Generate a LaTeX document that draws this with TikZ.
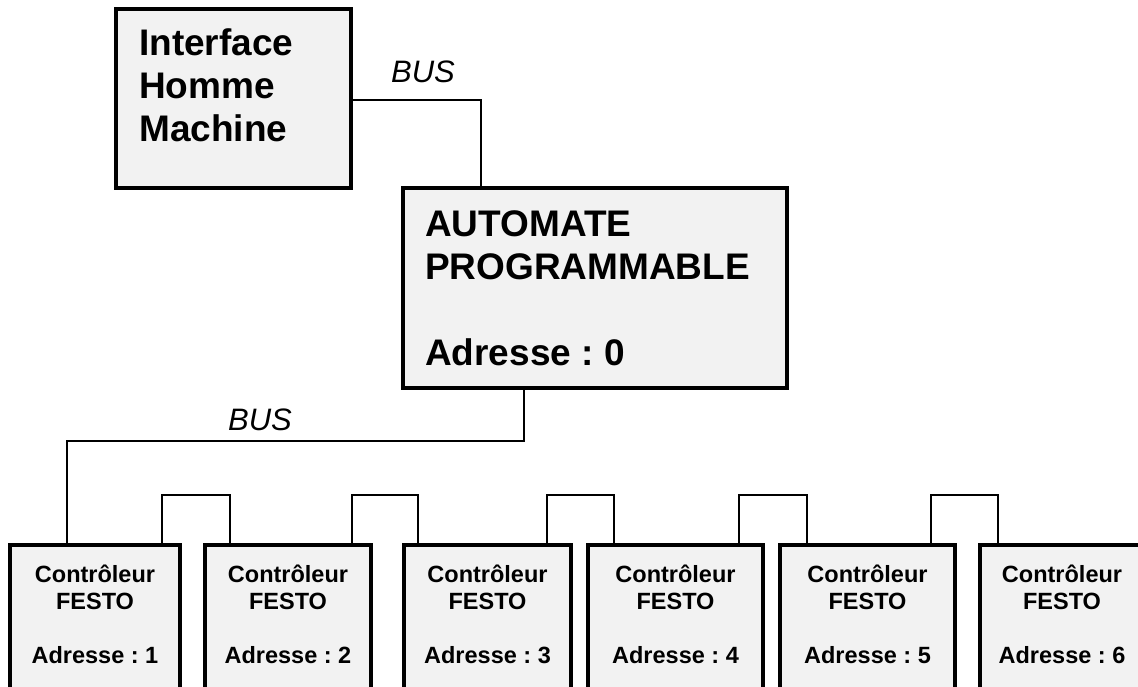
\documentclass[tikz,border=0pt]{standalone}
\usepackage{fontspec}
\setmainfont{Liberation Sans}
\definecolor{boxgray}{HTML}{F2F2F2}
\frenchspacing
\begin{document}
\begin{tikzpicture}[x=1pt,y=-1pt,
  box/.style={draw, line width=4pt, fill=boxgray, outer sep=0pt, inner sep=0pt, rectangle, anchor=north west},
  wire/.style={line width=1.6pt},
  bigtxt/.style={font=\bfseries\fontsize{37}{43}\selectfont, align=left, anchor=base west, inner sep=0pt},
  smalltxt/.style={font=\bfseries\fontsize{23.5}{27}\selectfont, align=center, anchor=base, inner sep=0pt},
  bustxt/.style={font=\itshape\fontsize{31}{36}\selectfont, anchor=base, inner sep=0pt}]
\useasboundingbox (0,0) rectangle (1138,687);
\clip (0,0) rectangle (1138,687);
\fill[white] (0,0) rectangle (1138,687);

% boxes
\node[box, minimum width=235pt, minimum height=179pt] (ihm) at (116,9) {};
\node[box, minimum width=384pt, minimum height=200pt] (plc) at (403,188) {};
\node[box, minimum width=170pt, minimum height=180pt] (c1) at (10,545) {};
\node[box, minimum width=166pt, minimum height=180pt] (c2) at (205,545) {};
\node[box, minimum width=167pt, minimum height=180pt] (c3) at (404,545) {};
\node[box, minimum width=175pt, minimum height=180pt] (c4) at (588,545) {};
\node[box, minimum width=175pt, minimum height=180pt] (c5) at (780,545) {};
\node[box, minimum width=164pt, minimum height=180pt] (c6) at (980,545) {};

% texts (anchored at the baseline of the last line)
\node[bigtxt] (ihmtxt) at (139,142) {Interface\\Homme\\Machine};
\node[bigtxt] (plctxt) at (425,365) {AUTOMATE\\PROGRAMMABLE\\[43pt]Adresse : 0};
\node[smalltxt] (t1) at (c1.north |- 0,663) {Contrôleur\\FESTO\\[27pt]Adresse : 1};
\node[smalltxt] (t2) at (c2.north |- 0,663) {Contrôleur\\FESTO\\[27pt]Adresse : 2};
\node[smalltxt] (t3) at (c3.north |- 0,663) {Contrôleur\\FESTO\\[27pt]Adresse : 3};
\node[smalltxt] (t4) at (c4.north |- 0,663) {Contrôleur\\FESTO\\[27pt]Adresse : 4};
\node[smalltxt] (t5) at (c5.north |- 0,663) {Contrôleur\\FESTO\\[27pt]Adresse : 5};
\node[smalltxt] (t6) at (c6.north |- 0,663) {Contrôleur\\FESTO\\[27pt]Adresse : 6};

% bus labels
\node[bustxt] (bus1) at (423,83) {BUS};
\node[bustxt] (bus2) at (260,430) {BUS};

% bus wires
\coordinate (b1) at (481,100);
\draw[wire] (ihm.east |- b1) -- (b1) -- (b1 |- plc.north);
\coordinate (b2) at (524,441);
\coordinate (b3) at (67,441);
\draw[wire] (plc.south -| b2) -- (b2) -- (b3) -- (b3 |- c1.north);

% daisy-chain loops
\coordinate (l1a) at (162,495); \coordinate (l1b) at (230,495);
\coordinate (l2a) at (352,495); \coordinate (l2b) at (418,495);
\coordinate (l3a) at (547,495); \coordinate (l3b) at (614,495);
\coordinate (l4a) at (739,495); \coordinate (l4b) at (807,495);
\coordinate (l5a) at (931,495); \coordinate (l5b) at (998,495);
\draw[wire] (c1.north -| l1a) -- (l1a) -- (l1b) -- (c2.north -| l1b);
\draw[wire] (c2.north -| l2a) -- (l2a) -- (l2b) -- (c3.north -| l2b);
\draw[wire] (c3.north -| l3a) -- (l3a) -- (l3b) -- (c4.north -| l3b);
\draw[wire] (c4.north -| l4a) -- (l4a) -- (l4b) -- (c5.north -| l4b);
\draw[wire] (c5.north -| l5a) -- (l5a) -- (l5b) -- (c6.north -| l5b);
\end{tikzpicture}
\end{document}
